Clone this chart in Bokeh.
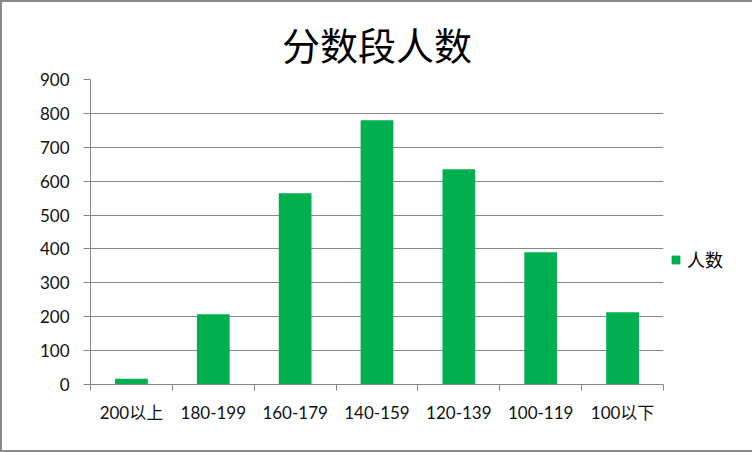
from bokeh.plotting import figure
from bokeh.models import Range1d, FixedTicker, Legend, LegendItem
from bokeh.embed import file_html
from bokeh.resources import INLINE

title_text = "分数段人数"
categories = ["200以上", "180-199", "160-179", "140-159", "120-139", "100-119", "100以下"]
counts = [17, 207, 564, 780, 635, 390, 213]
series_name = "人数"
y_ticks = [0, 100, 200, 300, 400, 500, 600, 700, 800, 900]

GRID = "#868686"
GREEN = "#00B050"
NUM_FONT = "Lato, 'Noto Sans CJK SC', sans-serif"
CJK_FONT = "'Noto Sans CJK SC', sans-serif"

n = len(categories)
centers = [i + 0.5 for i in range(n)]

p = figure(frame_width=573, frame_height=305, x_range=Range1d(0, n), y_range=Range1d(0, 900),
           output_backend="svg", toolbar_location=None,
           min_border_left=88, min_border_right=87, min_border_top=77, min_border_bottom=66,
           styles={"border": "2px solid #898989"})

p.title.text = title_text
p.title.align = "center"
p.title.text_font = CJK_FONT
p.title.text_font_size = "38px"
p.title.text_font_style = "normal"
p.title.text_color = "#000000"
p.title.standoff = 18

p.outline_line_color = None
p.background_fill_color = "white"
p.border_fill_color = "white"

r = p.vbar(x=centers, top=counts, width=0.4, fill_color=GREEN, line_color=None)

# y axis
yax = p.yaxis[0]
yax.ticker = FixedTicker(ticks=y_ticks)
yax.axis_line_color = GRID
yax.major_tick_line_color = GRID
yax.major_tick_out = 7
yax.major_tick_in = 0
yax.minor_tick_line_color = None
yax.major_label_text_font = NUM_FONT
yax.major_label_text_font_size = "17px"
yax.major_label_text_color = "#111111"
yax.major_label_standoff = 14

p.ygrid.ticker = FixedTicker(ticks=y_ticks)
p.ygrid.grid_line_color = GRID
p.xgrid.grid_line_color = None

# x axis: labels at category centres, tick marks at category boundaries
xax = p.xaxis[0]
xax.ticker = FixedTicker(ticks=centers, minor_ticks=list(range(n + 1)))
xax.major_label_overrides = {c: lab for c, lab in zip(centers, categories)}
xax.axis_line_color = GRID
xax.major_tick_line_color = None
xax.minor_tick_line_color = GRID
xax.minor_tick_out = 6
xax.minor_tick_in = 0
xax.major_label_text_font = NUM_FONT
xax.major_label_text_font_size = "17px"
xax.major_label_text_color = "#111111"
xax.major_label_standoff = 11

legend = Legend(items=[LegendItem(label=series_name, renderers=[r])],
                location=(7, 112), orientation="vertical",
                glyph_width=11, glyph_height=11, label_height=22,
                label_text_font=CJK_FONT, label_text_font_size="18px",
                label_text_color="#000000", label_standoff=6,
                padding=2, margin=0, border_line_color=None,
                background_fill_alpha=0)
p.add_layout(legend, "right")

open("out.html", "w").write(file_html(p, INLINE))
